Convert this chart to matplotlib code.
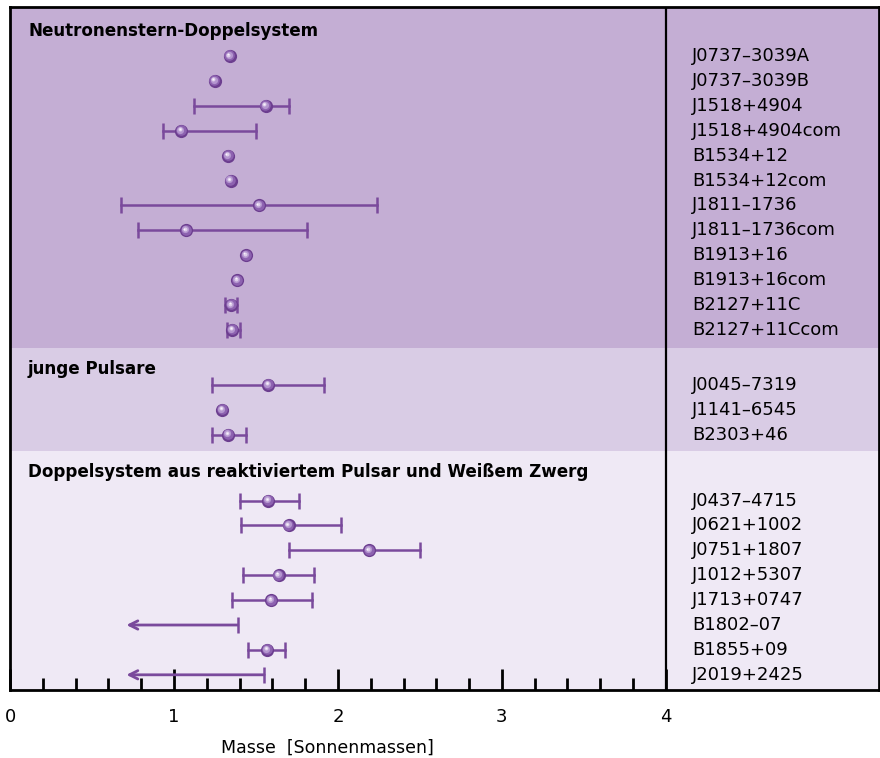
import numpy as np
import matplotlib
matplotlib.use('Agg')
import matplotlib.pyplot as plt
from matplotlib.transforms import offset_copy

# Neutronenstern-Doppelsystem
ns_names = ['J0737–3039A', 'J0737–3039B', 'J1518+4904', 'J1518+4904com',
            'B1534+12', 'B1534+12com', 'J1811–1736', 'J1811–1736com',
            'B1913+16', 'B1913+16com', 'B2127+11C', 'B2127+11Ccom']
ns_mass = [1.34, 1.25, 1.56, 1.045, 1.33, 1.345, 1.52, 1.075, 1.44, 1.387, 1.35, 1.356]
ns_lo = [None, None, 1.12, 0.935, None, None, 0.68, 0.78, None, None, 1.313, 1.325]
ns_hi = [None, None, 1.70, 1.50, None, None, 2.24, 1.81, None, None, 1.387, 1.405]

# junge Pulsare
yp_names = ['J0045–7319', 'J1141–6545', 'B2303+46']
yp_mass = [1.576, 1.295, 1.332]
yp_lo = [1.234, None, 1.234]
yp_hi = [1.918, None, 1.44]

# Doppelsystem aus reaktiviertem Pulsar und Weissem Zwerg
wd_names = ['J0437–4715', 'J0621+1002', 'J0751+1807', 'J1012+5307',
            'J1713+0747', 'B1802–07', 'B1855+09', 'J2019+2425']
wd_mass = [1.576, 1.70, 2.19, 1.64, 1.594, None, 1.57, None]
wd_lo = [1.40, 1.41, 1.70, 1.42, 1.356, None, 1.45, None]
wd_hi = [1.76, 2.016, 2.50, 1.857, 1.84, 1.39, 1.68, 1.55]
arrow_end = 0.71

headers = ['Neutronenstern-Doppelsystem', 'junge Pulsare',
           'Doppelsystem aus reaktiviertem Pulsar und Weißem Zwerg']

bg_colors = ['#c4aed4', '#d9cce5', '#efe9f5']
bar_color = '#7a4a9c'

fig = plt.figure(figsize=(8.8, 7.58), dpi=100)
ax = fig.add_axes([10 / 880, 68 / 758, 869 / 880, 683 / 758])
ax.set_xlim(0, 5.3)
ax.set_ylim(25.46, -1.97)

# row layout (row units), each group starts after a gap
starts = [0, 13.2, 17.85]
spans = [(-1.97, 11.73), (11.73, 15.86), (15.86, 25.46)]
header_y = [-1.0, 12.55, 16.7]

groups = [(ns_names, ns_mass, ns_lo, ns_hi),
          (yp_names, yp_mass, yp_lo, yp_hi),
          (wd_names, wd_mass, wd_lo, wd_hi)]


def balls(xs, ys):
    # shaded sphere look: stacked circles, highlight shifted up-left
    layers = [(9.5, '#6c3e8f', 0, 0), (7.6, '#8d62b0', -0.4, 0.4),
              (5.2, '#b496cf', -0.8, 0.8), (2.9, '#ddcdea', -1.1, 1.1),
              (1.3, '#f8f3fb', -1.3, 1.3)]
    for ms, c, dx, dy in layers:
        tr = offset_copy(ax.transData, fig=fig, x=dx, y=dy, units='points')
        ax.plot(xs, ys, 'o', ms=ms, color=c, mec='none', transform=tr, zorder=5)


for g, (names, mass, lo, hi) in enumerate(groups):
    ax.axhspan(*spans[g], color=bg_colors[g], zorder=0, lw=0)
    ax.text(0.11, header_y[g], headers[g], fontsize=12.1, fontweight='bold',
            va='center', ha='left', zorder=6)
    ys = starts[g] + np.arange(len(names))
    for i, name in enumerate(names):
        y = ys[i]
        ax.text(4.16, y, name, fontsize=13, va='center', ha='left')
        if hi[i] is not None and mass[i] is None:
            # upper limit only
            ax.annotate('', xy=(arrow_end, y), xytext=(hi[i], y),
                        arrowprops=dict(arrowstyle='->,head_length=0.6,head_width=0.3',
                                        color=bar_color, lw=2, shrinkA=0, shrinkB=0))
            ax.plot([hi[i]], [y], '|', ms=12, mew=1.8, color=bar_color, zorder=3)
        elif lo[i] is not None:
            ax.plot([lo[i], hi[i]], [y, y], color=bar_color, lw=1.8, zorder=3)
            ax.plot([lo[i], hi[i]], [y, y], '|', ms=12, mew=1.8, color=bar_color, zorder=3)
    pts = [(m, ys[i]) for i, m in enumerate(mass) if m is not None]
    balls([p[0] for p in pts], [p[1] for p in pts])

ax.axvline(4, color='black', lw=1.6, zorder=7)

for s in ax.spines.values():
    s.set_linewidth(2)

ax.set_xticks([0, 1, 2, 3, 4])
ax.set_xticks(np.arange(0.2, 4, 0.2), minor=True)
ax.tick_params(axis='x', which='major', direction='in', length=15, width=2,
               labelsize=13, pad=13)
ax.tick_params(axis='x', which='minor', direction='in', length=9, width=2)
ax.set_yticks([])

ax.set_xlabel('Masse  [Sonnenmassen]', fontsize=12.5)
ax.xaxis.set_label_coords(0.365, -0.072)

fig.savefig('out.png', dpi=100)
